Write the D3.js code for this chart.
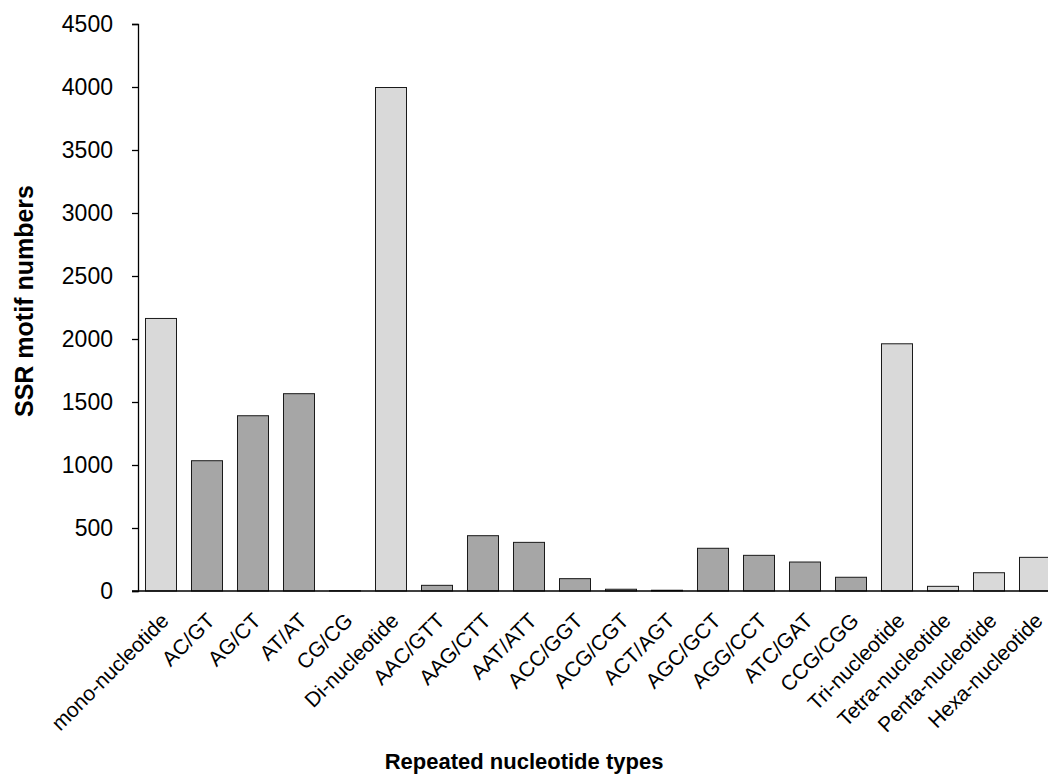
<!DOCTYPE html>
<html>
<head>
<meta charset="utf-8">
<script src="https://cdn.jsdelivr.net/npm/d3@7"></script>
<style>
    body { margin: 0; background: #fff; }
    text { font-family: Arial, "Liberation Sans", sans-serif; }
</style>
</head>
<body>
<div id="chart"></div>
<script>
// categories along the x axis
const categories = ["mono-nucleotide", "AC/GT", "AG/CT", "AT/AT", "CG/CG", "Di-nucleotide",
    "AAC/GTT", "AAG/CTT", "AAT/ATT", "ACC/GGT", "ACG/CGT", "ACT/AGT", "AGC/GCT", "AGG/CCT",
    "ATC/GAT", "CCG/CGG", "Tri-nucleotide", "Tetra-nucleotide", "Penta-nucleotide", "Hexa-nucleotide"];
// SSR counts
const counts = [2163, 1034, 1391, 1566, 2, 3996,
    45, 439, 386, 98, 14, 6, 339, 283,
    230, 109, 1962, 37, 145, 267];
// "total" bars are the lighter ones, "motif" bars the darker ones
const barKind = ["total", "motif", "motif", "motif", "motif", "total",
    "motif", "motif", "motif", "motif", "motif", "motif", "motif", "motif",
    "motif", "motif", "total", "total", "total", "total"];
const yTicks = [0, 500, 1000, 1500, 2000, 2500, 3000, 3500, 4000, 4500];

const width = 1048, height = 780;
const margin = {left: 138, top: 24, bottom: 591};

const svg = d3.select("#chart")
    .append("svg")
    .attr("width", width)
    .attr("height", height);

const x = d3.scaleBand()
    .domain(categories)
    .range([margin.left, margin.left + 20 * 46])
    .paddingInner(0.326)
    .paddingOuter(0.163);

const y = d3.scaleLinear()
    .domain([0, 4500])
    .range([margin.bottom, margin.top]);

const colour = d3.scaleOrdinal()
    .domain(["total", "motif"])
    .range(["#d9d9d9", "#a6a6a6"]);

// bars
svg.append("g")
    .selectAll("rect")
    .data(categories)
    .enter()
    .append("rect")
    .attr("x", d => x(d))
    .attr("y", (d, i) => y(counts[i]))
    .attr("width", x.bandwidth())
    .attr("height", (d, i) => y(0) - y(counts[i]))
    .style("fill", (d, i) => colour(barKind[i]))
    .style("stroke", "#1a1a1a")
    .style("stroke-width", 1);

// Y axis
const yAxis = svg.append("g")
    .attr("transform", "translate(" + margin.left + ",0)")
    .call(d3.axisLeft(y).tickValues(yTicks).tickSize(6).tickPadding(19).tickFormat(d3.format("d")));
yAxis.select(".domain").attr("stroke", "#000").attr("stroke-width", 1.3);
yAxis.selectAll(".tick line").attr("stroke", "#000").attr("stroke-width", 1.3);
yAxis.selectAll(".tick text")
    .style("font-size", "23px")
    .attr("fill", "#000");

// X axis baseline (runs off the right edge)
svg.append("line")
    .attr("x1", margin.left - 6)
    .attr("x2", width)
    .attr("y1", y(0))
    .attr("y2", y(0))
    .attr("stroke", "#000")
    .attr("stroke-width", 1.3);

// rotated category labels
svg.append("g")
    .selectAll("text")
    .data(categories)
    .enter()
    .append("text")
    .attr("transform", d => "translate(" + (x(d) + x.bandwidth() / 2 + 9) + "," + (y(0) + 31) + ") rotate(-45)")
    .attr("text-anchor", "end")
    .style("font-size", "21px")
    .attr("fill", "#000")
    .text(d => d);

// axis titles
svg.append("text")
    .attr("transform", "translate(33,301) rotate(-90)")
    .attr("text-anchor", "middle")
    .style("font-size", "25px")
    .style("font-weight", "bold")
    .text("SSR motif numbers");

svg.append("text")
    .attr("x", 524)
    .attr("y", 769)
    .attr("text-anchor", "middle")
    .style("font-size", "22px")
    .style("font-weight", "bold")
    .text("Repeated nucleotide types");
</script>
</body>
</html>
